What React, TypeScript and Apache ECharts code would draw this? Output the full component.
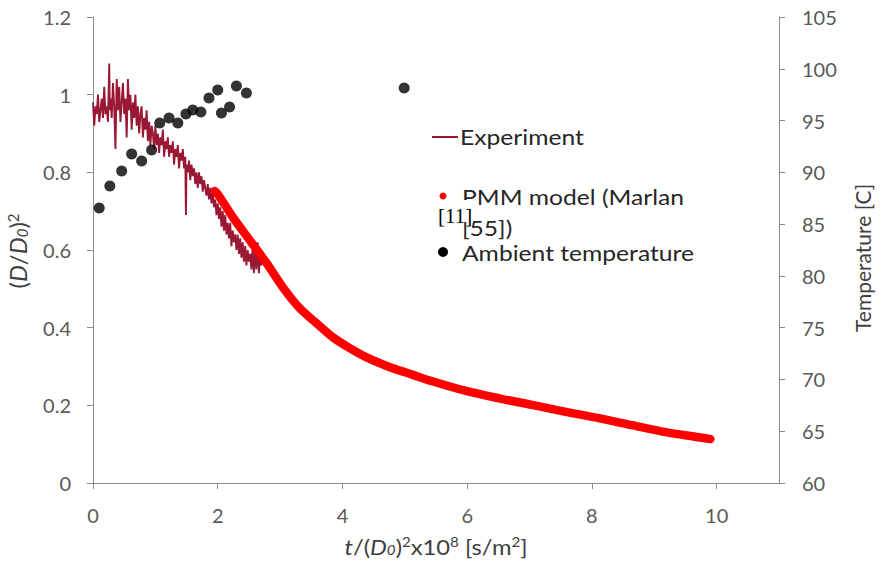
import React, { useEffect, useRef } from "react";
import * as echarts from "echarts";

// Experiment: [t/(D0)^2 x1e8, (D/D0)^2]
const experiment: [number, number][] = [
  [0.0, 0.98], [0.02, 0.92], [0.04, 0.97], [0.06, 0.95], [0.08, 1.0], [0.1, 0.93],
  [0.12, 0.96], [0.14, 0.99], [0.16, 0.94], [0.18, 1.02], [0.2, 0.95], [0.22, 0.97],
  [0.24, 0.93], [0.26, 1.08], [0.27, 0.96], [0.28, 0.99], [0.3, 0.94], [0.32, 1.03],
  [0.34, 0.97], [0.36, 0.86], [0.37, 0.95], [0.38, 1.04], [0.4, 0.96], [0.42, 1.02],
  [0.44, 0.93], [0.46, 0.98], [0.48, 1.03], [0.5, 0.95], [0.52, 0.99], [0.54, 0.89],
  [0.56, 1.04], [0.58, 0.96], [0.6, 1.0], [0.62, 0.91], [0.64, 0.98], [0.66, 0.94],
  [0.68, 1.0], [0.7, 0.92], [0.72, 0.97], [0.74, 0.9], [0.76, 0.95], [0.78, 0.97],
  [0.8, 0.89], [0.82, 0.94], [0.84, 0.91], [0.86, 0.96], [0.88, 0.88], [0.9, 0.93],
  [0.92, 0.87], [0.94, 0.92], [0.96, 0.9], [0.98, 0.86], [1.0, 0.92], [1.02, 0.87],
  [1.04, 0.9], [1.06, 0.85], [1.08, 0.89], [1.1, 0.87], [1.12, 0.91], [1.14, 0.84],
  [1.16, 0.88], [1.18, 0.86], [1.2, 0.89], [1.22, 0.84], [1.24, 0.87], [1.26, 0.85],
  [1.28, 0.88], [1.3, 0.82], [1.32, 0.86], [1.34, 0.84], [1.36, 0.87], [1.38, 0.81],
  [1.4, 0.85], [1.42, 0.83], [1.44, 0.86], [1.46, 0.81], [1.48, 0.84], [1.49, 0.69],
  [1.5, 0.82], [1.52, 0.8], [1.54, 0.83], [1.56, 0.78], [1.58, 0.82], [1.6, 0.79],
  [1.62, 0.81], [1.64, 0.77], [1.66, 0.8], [1.68, 0.76], [1.7, 0.8], [1.72, 0.77],
  [1.74, 0.79], [1.76, 0.75], [1.78, 0.78], [1.8, 0.76], [1.82, 0.74], [1.84, 0.77],
  [1.86, 0.73], [1.88, 0.76], [1.9, 0.72], [1.92, 0.75], [1.94, 0.71], [1.96, 0.73],
  [1.98, 0.69], [2.0, 0.72], [2.02, 0.68], [2.04, 0.71], [2.06, 0.66], [2.08, 0.7],
  [2.1, 0.65], [2.12, 0.69], [2.14, 0.64], [2.16, 0.67], [2.18, 0.63], [2.2, 0.67],
  [2.22, 0.61], [2.24, 0.65], [2.26, 0.62], [2.28, 0.64], [2.3, 0.6], [2.32, 0.64],
  [2.34, 0.59], [2.36, 0.63], [2.38, 0.58], [2.4, 0.62], [2.42, 0.57], [2.44, 0.61],
  [2.46, 0.56], [2.48, 0.6], [2.5, 0.57], [2.52, 0.59], [2.54, 0.55], [2.56, 0.61],
  [2.58, 0.54], [2.6, 0.6], [2.62, 0.55], [2.64, 0.62], [2.66, 0.54], [2.68, 0.59],
  [2.7, 0.56],
];

// PMM model (Marlan [55])
const modelX = [1.95, 2.0, 2.24, 2.51, 2.78, 3.04, 3.31, 3.58, 3.84, 4.11, 4.38, 4.7, 4.91, 5.12, 5.44, 5.98, 6.51, 7.04, 7.58, 8.11, 8.64, 9.18, 9.71, 9.9];
const modelY = [0.752, 0.744, 0.685, 0.626, 0.567, 0.505, 0.451, 0.412, 0.376, 0.348, 0.324, 0.302, 0.29, 0.279, 0.262, 0.237, 0.218, 0.201, 0.183, 0.167, 0.149, 0.131, 0.118, 0.113];

// Ambient temperature [C]
const ambientX = [0.1, 0.27, 0.46, 0.62, 0.78, 0.94, 1.07, 1.22, 1.36, 1.49, 1.6, 1.73, 1.86, 2.0, 2.06, 2.19, 2.3, 2.46, 4.99];
const ambientT = [86.55, 88.68, 90.13, 91.77, 91.09, 92.16, 94.76, 95.25, 94.76, 95.63, 96.02, 95.82, 97.18, 97.95, 95.73, 96.31, 98.34, 97.66, 98.14];

const legendLabels = ["Experiment", "PMM model (Marlan", "[55])", "[11]", "Ambient temperature"];

const FONT = "Lato";
const AXIS_COLOR = "#8c8c8c";
const LABEL_COLOR = "#595959";
const TITLE_COLOR = "#404040";
const LEGEND_COLOR = "#262626";
const EXP_COLOR = "#9a1834";
const MODEL_COLOR = "#ff0000";

export default function App() {
  const ref = useRef<HTMLDivElement>(null);
  useEffect(() => {
    if (!ref.current) return;
    const chart = echarts.init(ref.current, undefined, { renderer: "svg" });
    const makeRich = (size: number, small: number) => ({
      i: { fontStyle: "italic", fontSize: size, fontFamily: FONT, color: TITLE_COLOR },
      sub: { fontStyle: "italic", fontSize: small, fontFamily: FONT, verticalAlign: "bottom", color: TITLE_COLOR },
      sup: { fontSize: small, fontFamily: FONT, verticalAlign: "top", color: TITLE_COLOR },
    });
    const legendText = (x: number, y: number, text: string) => ({
      type: "text",
      x,
      y,
      scaleX: 1.12,
      style: { text, fontSize: 22, fontFamily: FONT, fill: LEGEND_COLOR, verticalAlign: "middle" },
    });
    const option: any = {
      animation: false,
      backgroundColor: "#ffffff",
      grid: { left: 93, right: 104, top: 17, bottom: 78, containLabel: false },
      xAxis: {
        type: "value",
        min: 0,
        max: 11,
        interval: 2,
        axisLine: { show: true, onZero: false, lineStyle: { color: AXIS_COLOR, width: 1 } },
        axisTick: { show: true, length: 6, lineStyle: { color: AXIS_COLOR } },
        axisLabel: { margin: 22, fontSize: 20, color: LABEL_COLOR, fontFamily: FONT, showMaxLabel: false },
        splitLine: { show: false },
      },
      yAxis: [
        {
          type: "value",
          min: 0,
          max: 1.2,
          interval: 0.2,
          position: "left",
          axisLine: { show: true, lineStyle: { color: AXIS_COLOR, width: 1 } },
          axisTick: { show: true, length: 6, lineStyle: { color: AXIS_COLOR } },
          axisLabel: { margin: 22, fontSize: 20, color: LABEL_COLOR, fontFamily: FONT },
          splitLine: { show: false },
        },
        {
          type: "value",
          min: 60,
          max: 105,
          interval: 5,
          position: "right",
          axisLine: { show: true, lineStyle: { color: AXIS_COLOR, width: 1 } },
          axisTick: { show: true, length: 6, lineStyle: { color: AXIS_COLOR } },
          axisLabel: { margin: 23, fontSize: 20, color: LABEL_COLOR, fontFamily: FONT },
          splitLine: { show: false },
        },
      ],
      series: [
        {
          name: "Experiment",
          type: "line",
          yAxisIndex: 0,
          data: experiment,
          showSymbol: false,
          lineStyle: { color: EXP_COLOR, width: 1.9 },
          z: 2,
        },
        {
          name: "PMM model (Marlan [55])",
          type: "line",
          yAxisIndex: 0,
          data: modelX.map((x, i) => [x, modelY[i]]),
          showSymbol: false,
          smooth: 0.3,
          lineStyle: { color: MODEL_COLOR, width: 8.5, cap: "round", join: "round" },
          z: 3,
        },
        {
          name: "Ambient temperature",
          type: "scatter",
          yAxisIndex: 1,
          data: ambientX.map((x, i) => [x, ambientT[i]]),
          symbol: "circle",
          symbolSize: 11,
          itemStyle: { color: "#000000" },
          z: 4,
        },
      ],
      graphic: [
        // axis titles
        {
          type: "text",
          x: 436,
          y: 546,
          scaleX: 1.08,
          style: {
            text: "{i|t}/({i|D}{sub|0}){sup|2}x10{sup|8} [s/m{sup|2}]",
            fontSize: 22,
            fontFamily: FONT,
            fill: TITLE_COLOR,
            align: "center",
            verticalAlign: "middle",
            rich: makeRich(22, 14),
          },
        },
        {
          type: "text",
          x: 17,
          y: 251,
          rotation: Math.PI / 2,
          style: {
            text: "({i|D}/{i|D}{sub|0}){sup|2}",
            fontSize: 24,
            fontFamily: FONT,
            fill: TITLE_COLOR,
            align: "center",
            verticalAlign: "middle",
            rich: makeRich(24, 15),
          },
        },
        {
          type: "text",
          x: 862,
          y: 258,
          rotation: Math.PI / 2,
          style: {
            text: "Temperature [C]",
            fontSize: 21,
            fontFamily: FONT,
            fill: TITLE_COLOR,
            align: "center",
            verticalAlign: "middle",
          },
        },
        // legend
        {
          type: "line",
          shape: { x1: 432, y1: 137, x2: 458, y2: 137 },
          style: { stroke: EXP_COLOR, lineWidth: 2 },
        },
        legendText(460, 137, legendLabels[0]),
        legendText(462, 197, legendLabels[1]),
        legendText(462, 228, legendLabels[2]),
        {
          type: "circle",
          shape: { cx: 443, cy: 196, r: 3.5 },
          style: { fill: MODEL_COLOR },
        },
        {
          type: "rect",
          shape: { x: 436, y: 200, width: 37, height: 22 },
          style: { fill: "#ffffff" },
        },
        {
          type: "text",
          x: 438,
          y: 216,
          style: { text: legendLabels[3], fontSize: 21, fontFamily: "Liberation Serif", fill: "#000000", verticalAlign: "middle" },
        },
        {
          type: "circle",
          shape: { cx: 443, cy: 252, r: 5 },
          style: { fill: "#000000" },
        },
        legendText(462, 253, legendLabels[4]),
      ],
    };
    chart.setOption(option);
    return () => chart.dispose();
  }, []);
  return (
    <div
      ref={ref}
      style={{ position: "fixed", left: 0, top: 0, width: 883, height: 561, background: "#fff" }}
    />
  );
}
